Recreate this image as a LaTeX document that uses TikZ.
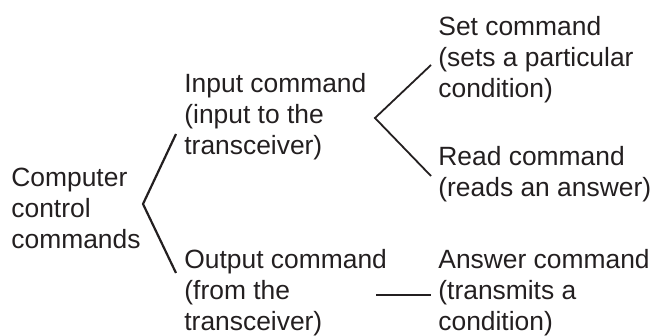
\documentclass[tikz,border=0pt]{standalone}
\usepackage{fontspec}
\setmainfont{Liberation Sans}
\usetikzlibrary{positioning}
\definecolor{inkgray}{HTML}{231F20}

\begin{document}
\begin{tikzpicture}[x=0.5pt, y=-0.5pt,
  every node/.style = {align=left, inner sep=0pt, anchor=base west,
    text=inkgray, font=\fontsize{13.2}{15.5}\selectfont},
  branch/.style = {draw=inkgray, line width=1.1pt, line join=miter}]
  \useasboundingbox (0,0) rectangle (654,336);
  % text of the tree (placed at the baseline of the last line)
  \node (computer) at (11,249)  {Computer\\control\\commands};
  \node (input)    at (184,155) {Input command\\(input to the\\transceiver)};
  \node (output)   at (184,331) {Output command\\(from the\\transceiver)};
  \node (set)      at (438,98)  {Set command\\(sets a particular\\condition)};
  \node (read)     at (438,197) {Read command\\(reads an answer)};
  \node (answer)   at (438,331) {Answer command\\(transmits a\\condition)};
  % ends of the branches
  \coordinate (rootfork) at (143,204);
  \coordinate (toinput)  at (176,134);
  \coordinate (tooutput) at (176,273);
  \coordinate (inputfork) at (375,118);
  \coordinate (toset)    at (431,65);
  \coordinate (toread)   at (431,176);
  \coordinate (fromout)  at (376,295);
  \coordinate (toanswer) at (431,295);
  \draw[branch] (toinput) -- (rootfork) -- (tooutput);
  \draw[branch, line width=0.9pt] (toset) -- (inputfork) -- (toread);
  \draw[branch, line width=0.9pt] (fromout) -- (toanswer);
\end{tikzpicture}
\end{document}
